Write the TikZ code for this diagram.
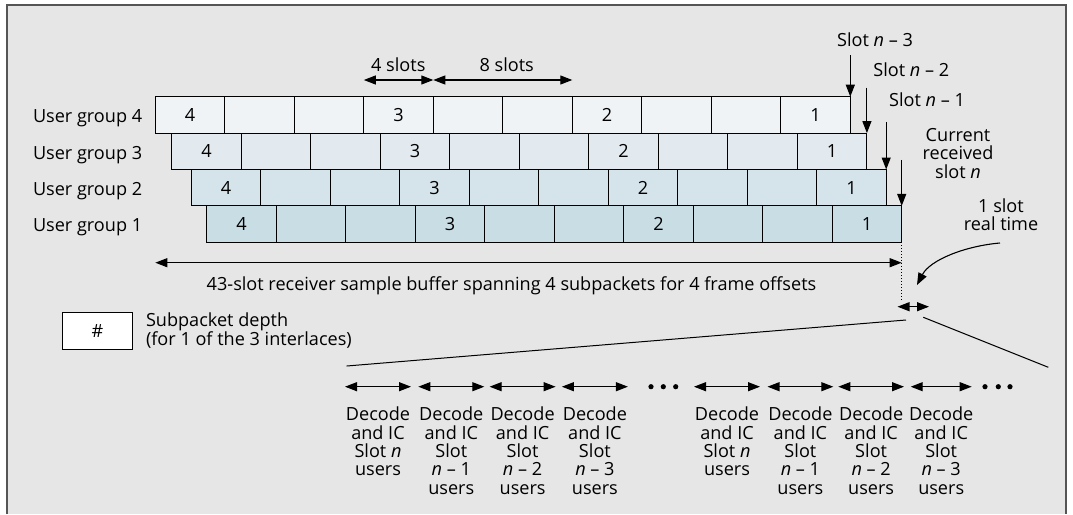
\documentclass[tikz,border=0pt]{standalone}
\usepackage{fontspec}
\setmainfont{Open Sans}
\usetikzlibrary{arrows.meta}
\definecolor{bgc}{RGB}{230,230,230}
\definecolor{framec}{RGB}{85,85,85}
\definecolor{rfour}{RGB}{239,243,246}
\definecolor{rthree}{RGB}{226,234,239}
\definecolor{rtwo}{RGB}{213,227,234}
\definecolor{rone}{RGB}{201,221,229}
\tikzset{
  txt/.style={font=\fontsize{18.1}{18.4}\selectfont, inner sep=0pt, outer sep=0pt},
  cell/.style={draw=black, line width=1.1pt, minimum width=69.5pt, minimum height=36.4pt,
    inner sep=0pt, outer sep=0pt, anchor=north west, font=\fontsize{18.1}{18.4}\selectfont},
  arr/.style={line width=1.1pt, -{Triangle[length=12pt,width=9pt]}},
  darr/.style={line width=1.1pt, {Triangle[length=12pt,width=9pt]}-{Triangle[length=12pt,width=9pt]}},
  lbl/.style={txt, anchor=north, align=center},
}
\begin{document}
\begin{tikzpicture}[x=1pt,y=-1pt]
\useasboundingbox (0,0) rectangle (1073,514);
\fill[white] (0,0) rectangle (1073,514);
\fill[bgc] (7,5) rectangle (1066,514);
\draw[framec, line width=1.2pt] (7,514) -- (7,5) -- (1066,5) -- (1066,514);

% rows of cells
\foreach \r/\x/\y/\c in {4/155.3/96.7/rfour, 3/171.9/133.1/rthree, 2/191.2/169.5/rtwo, 1/206.7/205.9/rone}{
  \foreach \i/\t in {1/4,2/,3/,4/3,5/,6/,7/2,8/,9/,10/1}{
    \node[cell, fill=\c] (c\r-\i) at ({\x+(\i-1)*69.5},\y) {\t};
  }
  \node[txt, anchor=base west] (g\r) at (33,{\y+26}) {User group \r};
}

% top span arrows
\coordinate (ya) at (0,80);
\node[txt, anchor=base] (l4s) at (398.3,71.7) {4 slots};
\node[txt, anchor=base] (l8s) at (506.7,71.7) {8 slots};
\draw[darr] (c4-4.west |- ya) -- (c4-4.east |- ya);
\draw[darr] (c4-5.west |- ya) -- (c4-6.east |- ya);

% slot labels and arrows
\node[txt, anchor=base] (sn3) at (875,46.7) {Slot \textit{n} – 3};
\node[txt, anchor=base] (sn2) at (911.3,76) {Slot \textit{n} – 2};
\node[txt, anchor=base] (sn1) at (927,106) {Slot \textit{n} – 1};
\node[lbl] (cur) at (958,128.3) {Current\\received\\slot \textit{n}};
\draw[arr] ([yshift=41.7pt]c4-10.north east) -- (c4-10.north east);
\draw[arr] ([yshift=45.5pt]c3-10.north east) -- (c3-10.north east);
\draw[arr] ([yshift=47.5pt]c2-10.north east) -- (c2-10.north east);
\draw[arr] ([yshift=46pt]c1-10.north east) -- (c1-10.north east);

% real time
\node[lbl] (rt) at (1001,198.7) {1 slot\\real time};
\coordinate (cs) at (1000,243);
\coordinate (ce) at (917,285);
\draw[arr] (cs) .. controls (965,246) and (930,260) .. (ce);
\draw[line width=1pt, dotted] (c1-10.south east) -- ([yshift=-57.5pt]c1-10.south east);
\coordinate (sl) at (897.5,306.7);
\coordinate (sr) at (929,306.7);
\draw[darr] (sl) -- (sr);

% buffer arrow
\coordinate (yb) at (0,262.7);
\draw[darr] (c4-1.west |- yb) -- (c1-10.east |- yb);
\node[txt, anchor=base] (buf) at (511.5,290) {43-slot receiver sample buffer spanning 4 subpackets for 4 frame offsets};

% legend
\node[draw=black, fill=white, line width=1pt, minimum width=69.4pt, minimum height=36.7pt,
  inner sep=0pt, anchor=north west, font=\fontsize{18.1}{18.4}\selectfont] (leg) at (62.3,312.3) {\#};
\node[txt, anchor=north west, align=left, font=\fontsize{18.1}{16.7}\selectfont] (legt) at (146,313)
  {Subpacket depth\\(for 1 of the 3 interlaces)};

% zoom lines
\coordinate (zl1) at (906,320);
\coordinate (zl2) at (346.7,366);
\coordinate (zr1) at (923.3,317.3);
\coordinate (zr2) at (1048.3,367.3);
\draw[line width=1pt] (zl1) -- (zl2);
\draw[line width=1pt] (zr1) -- (zr2);

% bottom arrows and labels
\foreach \k/\a/\b/\s in {1/345/411/Slot \textit{n}, 2/418.3/484.3/{Slot\\\textit{n} – 1}, 3/489.6/555.6/{Slot\\\textit{n} – 2}, 4/561.9/627.9/{Slot\\\textit{n} – 3},
  5/694/760/Slot \textit{n}, 6/767.5/833.3/{Slot\\\textit{n} – 1}, 7/838.3/904/{Slot\\\textit{n} – 2}, 8/910.7/971.7/{Slot\\\textit{n} – 3}}{
  \coordinate (bl\k) at (\a,386.7);
  \coordinate (br\k) at (\b,386.7);
  \draw[darr] (bl\k) -- (br\k);
  \node[lbl] (d\k) at ({(\a+\b)/2},407) {Decode\\and IC\\\s\\users};
}
\foreach \k/\x in {1/651,2/663.3,3/675.7,4/985,5/998.3,6/1010}{
  \fill (\x,386.7) circle[radius=2.6pt] coordinate (dot\k);
}
\end{tikzpicture}
\end{document}
